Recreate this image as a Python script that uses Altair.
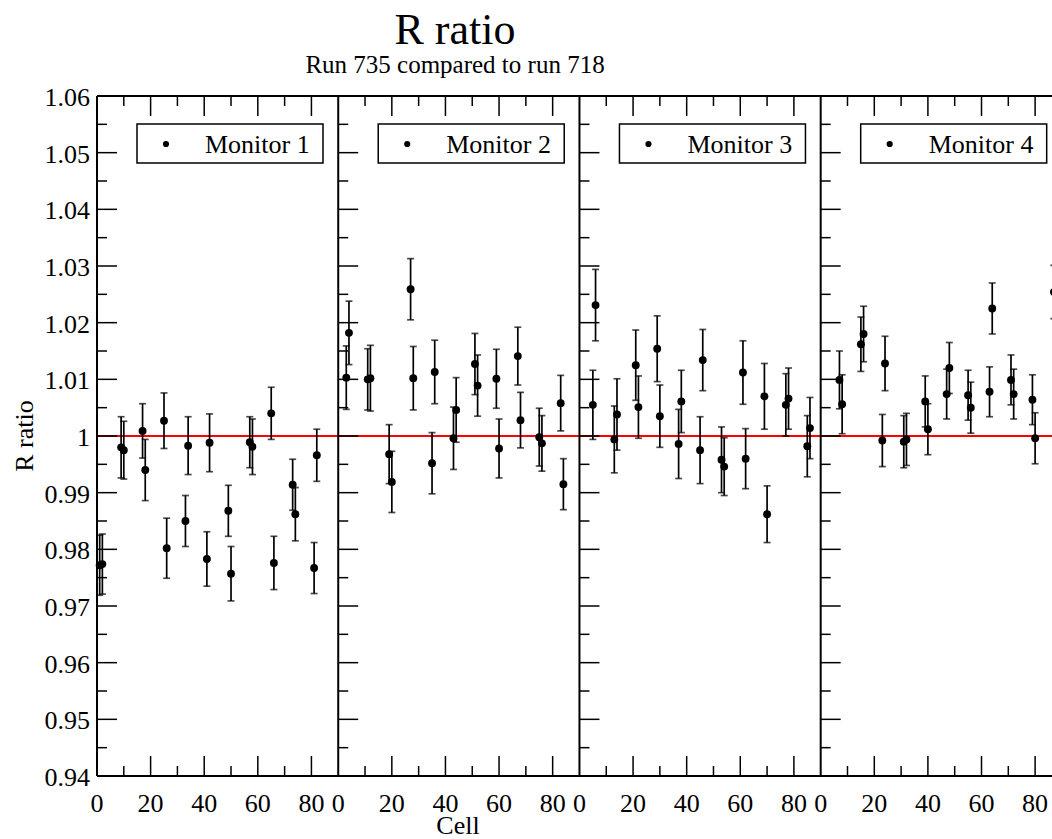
import altair as alt
import pandas as pd

# ---------------- data ----------------
MONITORS = ["Monitor 1", "Monitor 2", "Monitor 3", "Monitor 4"]
PANEL_OFFSETS = [0, 90, 180, 270]          # each panel spans cells 0..90

m1_cells = [1, 2, 9, 10, 17, 18, 25, 26, 33, 34, 41, 42, 49, 50, 57, 58, 65, 66, 73, 74, 81, 82]
m1_ratio = [0.9772, 0.9774, 0.9980, 0.9975, 1.0009, 0.9940, 1.0027, 0.9802, 0.9850, 0.9983, 0.9783,
            0.9988, 0.9868, 0.9757, 0.9989, 0.9981, 1.0040, 0.9776, 0.9914, 0.9862, 0.9767, 0.9966]
m1_err = [0.0053, 0.0053, 0.0054, 0.0051, 0.0048, 0.0054, 0.0049, 0.0053, 0.0045, 0.0051, 0.0048,
          0.0051, 0.0045, 0.0048, 0.0045, 0.0049, 0.0046, 0.0047, 0.0045, 0.0047, 0.0045, 0.0046]

m2_cells = [3, 4, 11, 12, 19, 20, 27, 28, 35, 36, 43, 44, 51, 52, 59, 60, 67, 68, 75, 76, 83, 84]
m2_ratio = [1.0103, 1.0182, 1.0100, 1.0102, 0.9968, 0.9919, 1.0259, 1.0102, 0.9952, 1.0113, 0.9996,
            1.0046, 1.0127, 1.0089, 1.0101, 0.9978, 1.0141, 1.0028, 0.9998, 0.9987, 1.0058, 0.9915]
m2_err = [0.0056, 0.0056, 0.0054, 0.0058, 0.0052, 0.0054, 0.0054, 0.0056, 0.0054, 0.0056, 0.0055,
          0.0057, 0.0054, 0.0054, 0.0052, 0.0052, 0.0051, 0.0049, 0.0051, 0.0049, 0.0049, 0.0045]

m3_cells = [5, 6, 13, 14, 21, 22, 29, 30, 37, 38, 45, 46, 53, 54, 61, 62, 69, 70, 77, 78, 85, 86]
m3_ratio = [1.0055, 1.0231, 0.9994, 1.0038, 1.0125, 1.0051, 1.0154, 1.0035, 0.9986, 1.0061, 0.9975,
            1.0134, 0.9958, 0.9946, 1.0112, 0.9960, 1.0070, 0.9862, 1.0055, 1.0066, 0.9982, 1.0014]
m3_err = [0.0061, 0.0063, 0.0059, 0.0063, 0.0062, 0.0055, 0.0058, 0.0055, 0.0061, 0.0055, 0.0059,
          0.0054, 0.0058, 0.0051, 0.0056, 0.0053, 0.0058, 0.0050, 0.0055, 0.0054, 0.0054, 0.0054]

m4_cells = [7, 8, 15, 16, 23, 24, 31, 32, 39, 40, 47, 48, 55, 56, 63, 64, 71, 72, 79, 80, 87]
m4_ratio = [1.0099, 1.0056, 1.0162, 1.0180, 0.9992, 1.0128, 0.9990, 0.9994, 1.0061, 1.0012, 1.0074,
            1.0120, 1.0072, 1.0050, 1.0078, 1.0225, 1.0099, 1.0074, 1.0064, 0.9996, 1.0254]
m4_err = [0.0051, 0.0052, 0.0048, 0.0049, 0.0046, 0.0048, 0.0046, 0.0046, 0.0045, 0.0045, 0.0044,
          0.0045, 0.0044, 0.0045, 0.0044, 0.0045, 0.0044, 0.0044, 0.0044, 0.0045, 0.0047]

X_MAJOR = [0, 20, 40, 60, 80]
X_MINOR = [10, 30, 50, 70]
Y_MAJOR = [0.94, 0.95, 0.96, 0.97, 0.98, 0.99, 1.00, 1.01, 1.02, 1.03, 1.04, 1.05, 1.06]
Y_MINOR = [0.945, 0.955, 0.965, 0.975, 0.985, 0.995, 1.005, 1.015, 1.025, 1.035, 1.045, 1.055]

TITLE = "R ratio"
SUBTITLE = "Run 735 compared to run 718"
X_TITLE = "Cell"
Y_TITLE = "R ratio"

# ---------------- layout ----------------
W, H = 955, 680
X_DOMAIN = [0, 356.3]
Y_DOMAIN = [0.94, 1.06]
FONT = "Liberation Serif"
FS = 26

series = [(m1_cells, m1_ratio, m1_err), (m2_cells, m2_ratio, m2_err),
          (m3_cells, m3_ratio, m3_err), (m4_cells, m4_ratio, m4_err)]
rows = []
for off, name, (cells, ratio, err) in zip(PANEL_OFFSETS, MONITORS, series):
    for c, r, e in zip(cells, ratio, err):
        rows.append({"monitor": name, "cell": c, "pos": off + c, "ratio": r,
                     "lo": r - e, "hi": r + e})
pts = pd.DataFrame(rows)

panels = pd.DataFrame({"off": PANEL_OFFSETS, "name": MONITORS})
xt_major = pd.DataFrame([{"pos": o + t} for o in PANEL_OFFSETS for t in X_MAJOR if t > 0])
xt_minor = pd.DataFrame([{"pos": o + t} for o in PANEL_OFFSETS for t in X_MINOR])
yt_major = pd.DataFrame([{"off": o, "y": y} for o in PANEL_OFFSETS for y in Y_MAJOR[1:-1]])
yt_minor = pd.DataFrame([{"off": o, "y": y} for o in PANEL_OFFSETS for y in Y_MINOR])
x_labels = pd.DataFrame([{"pos": o + t, "lab": str(t)} for o in PANEL_OFFSETS for t in X_MAJOR])
y_labels = pd.DataFrame([{"y": v, "lab": f"{v:.2f}".rstrip("0").rstrip(".")} for v in Y_MAJOR])

xs = alt.Scale(domain=X_DOMAIN, nice=False, zero=False)
ys = alt.Scale(domain=Y_DOMAIN, nice=False, zero=False)
X = lambda f: alt.X(f, scale=xs, axis=None)
Y = lambda f: alt.Y(f, scale=ys, axis=None)

base_pts = alt.Chart(pts)
points = base_pts.mark_circle(size=62, color="black", opacity=1).encode(x=X("pos:Q"), y=Y("ratio:Q"))
bars = base_pts.mark_rule(color="black", strokeWidth=1.7).encode(x=X("pos:Q"), y=Y("lo:Q"), y2="hi:Q")
caps_hi = base_pts.mark_tick(orient="horizontal", size=7, thickness=1.7, color="black").encode(
    x=X("pos:Q"), y=Y("hi:Q"))
caps_lo = base_pts.mark_tick(orient="horizontal", size=7, thickness=1.7, color="black").encode(
    x=X("pos:Q"), y=Y("lo:Q"))

ref = alt.Chart(pd.DataFrame({"v": [1.0]})).mark_rule(color="#ff0000", strokeWidth=1.8).encode(
    y=Y("v:Q"), x=alt.value(0), x2=alt.value(W))

borders_v = alt.Chart(panels).mark_rule(color="black", strokeWidth=2).encode(
    x=X("off:Q"), y=alt.value(0), y2=alt.value(H))
border_top = alt.Chart(panels).mark_rule(color="black", strokeWidth=2).encode(
    x=alt.value(0), x2=alt.value(W), y=alt.value(0))
border_bot = alt.Chart(panels).mark_rule(color="black", strokeWidth=2).encode(
    x=alt.value(0), x2=alt.value(W), y=alt.value(H))


def xticks(df, length):
    b = alt.Chart(df).mark_rule(color="black", strokeWidth=1.5)
    bot = b.encode(x=X("pos:Q"), y=alt.value(H), y2=alt.value(H - length))
    top = b.encode(x=X("pos:Q"), y=alt.value(0), y2=alt.value(length))
    return bot + top


def yticks(df, length):
    return alt.Chart(df).mark_rule(color="black", strokeWidth=1.5, x2Offset=length).encode(
        x=X("off:Q"), x2=alt.X2("off:Q"), y=Y("y:Q"))


xlab = alt.Chart(x_labels).mark_text(font=FONT, fontSize=FS, align="center", baseline="alphabetic",
                                     color="black").encode(
    x=X("pos:Q"), y=alt.value(H + 36), text="lab:N")
ylab = alt.Chart(y_labels).mark_text(font=FONT, fontSize=FS, align="right", baseline="alphabetic",
                                     color="black", dy=10).encode(
    x=alt.value(-7), y=Y("y:Q"), text="lab:N")
xtitle = alt.Chart(pd.DataFrame({"t": [X_TITLE]})).mark_text(
    font=FONT, fontSize=FS, align="center", baseline="alphabetic", color="black").encode(
    x=alt.value(361), y=alt.value(H + 58), text="t:N")
ytitle = alt.Chart(pd.DataFrame({"t": [Y_TITLE]})).mark_text(
    font=FONT, fontSize=FS, align="center", baseline="alphabetic", color="black", angle=270).encode(
    x=alt.value(-64), y=alt.value(340), text="t:N")

leg_box = alt.Chart(panels).mark_rect(fill="white", stroke="black", strokeWidth=1.5,
                                      xOffset=40, x2Offset=226).encode(
    x=X("off:Q"), x2=alt.X2("off:Q"), y=alt.value(28), y2=alt.value(67))
leg_dot = alt.Chart(panels).mark_circle(size=38, color="black", opacity=1, xOffset=69).encode(
    x=X("off:Q"), y=alt.value(48))
leg_txt = alt.Chart(panels).mark_text(font=FONT, fontSize=FS, align="left", baseline="middle",
                                      color="black", xOffset=108, yOffset=1).encode(
    x=X("off:Q"), y=alt.value(48), text="name:N")

title_mark = alt.Chart(pd.DataFrame({"t": [TITLE]})).mark_text(
    font=FONT, fontSize=44, align="center", baseline="alphabetic", color="black").encode(
    x=alt.value(358), y=alt.value(-52), text="t:N")
sub_mark = alt.Chart(pd.DataFrame({"t": [SUBTITLE]})).mark_text(
    font=FONT, fontSize=25, align="center", baseline="alphabetic", color="black").encode(
    x=alt.value(358), y=alt.value(-23), text="t:N")

chart = alt.layer(
    ref, borders_v, border_top, border_bot,
    xticks(xt_major, 20), xticks(xt_minor, 10), yticks(yt_major, 20), yticks(yt_minor, 10),
    bars, caps_hi, caps_lo, points,
    leg_box, leg_dot, leg_txt,
    xlab, ylab, xtitle, ytitle, title_mark, sub_mark,
).properties(
    width=W, height=H,
    padding={"left": 97, "top": 96, "right": 0, "bottom": 63},
    autosize=alt.AutoSizeParams(type="none"),
    background="white",
).configure_view(stroke=None)

chart.save("out.html", embed_options={"renderer": "svg", "actions": False})
